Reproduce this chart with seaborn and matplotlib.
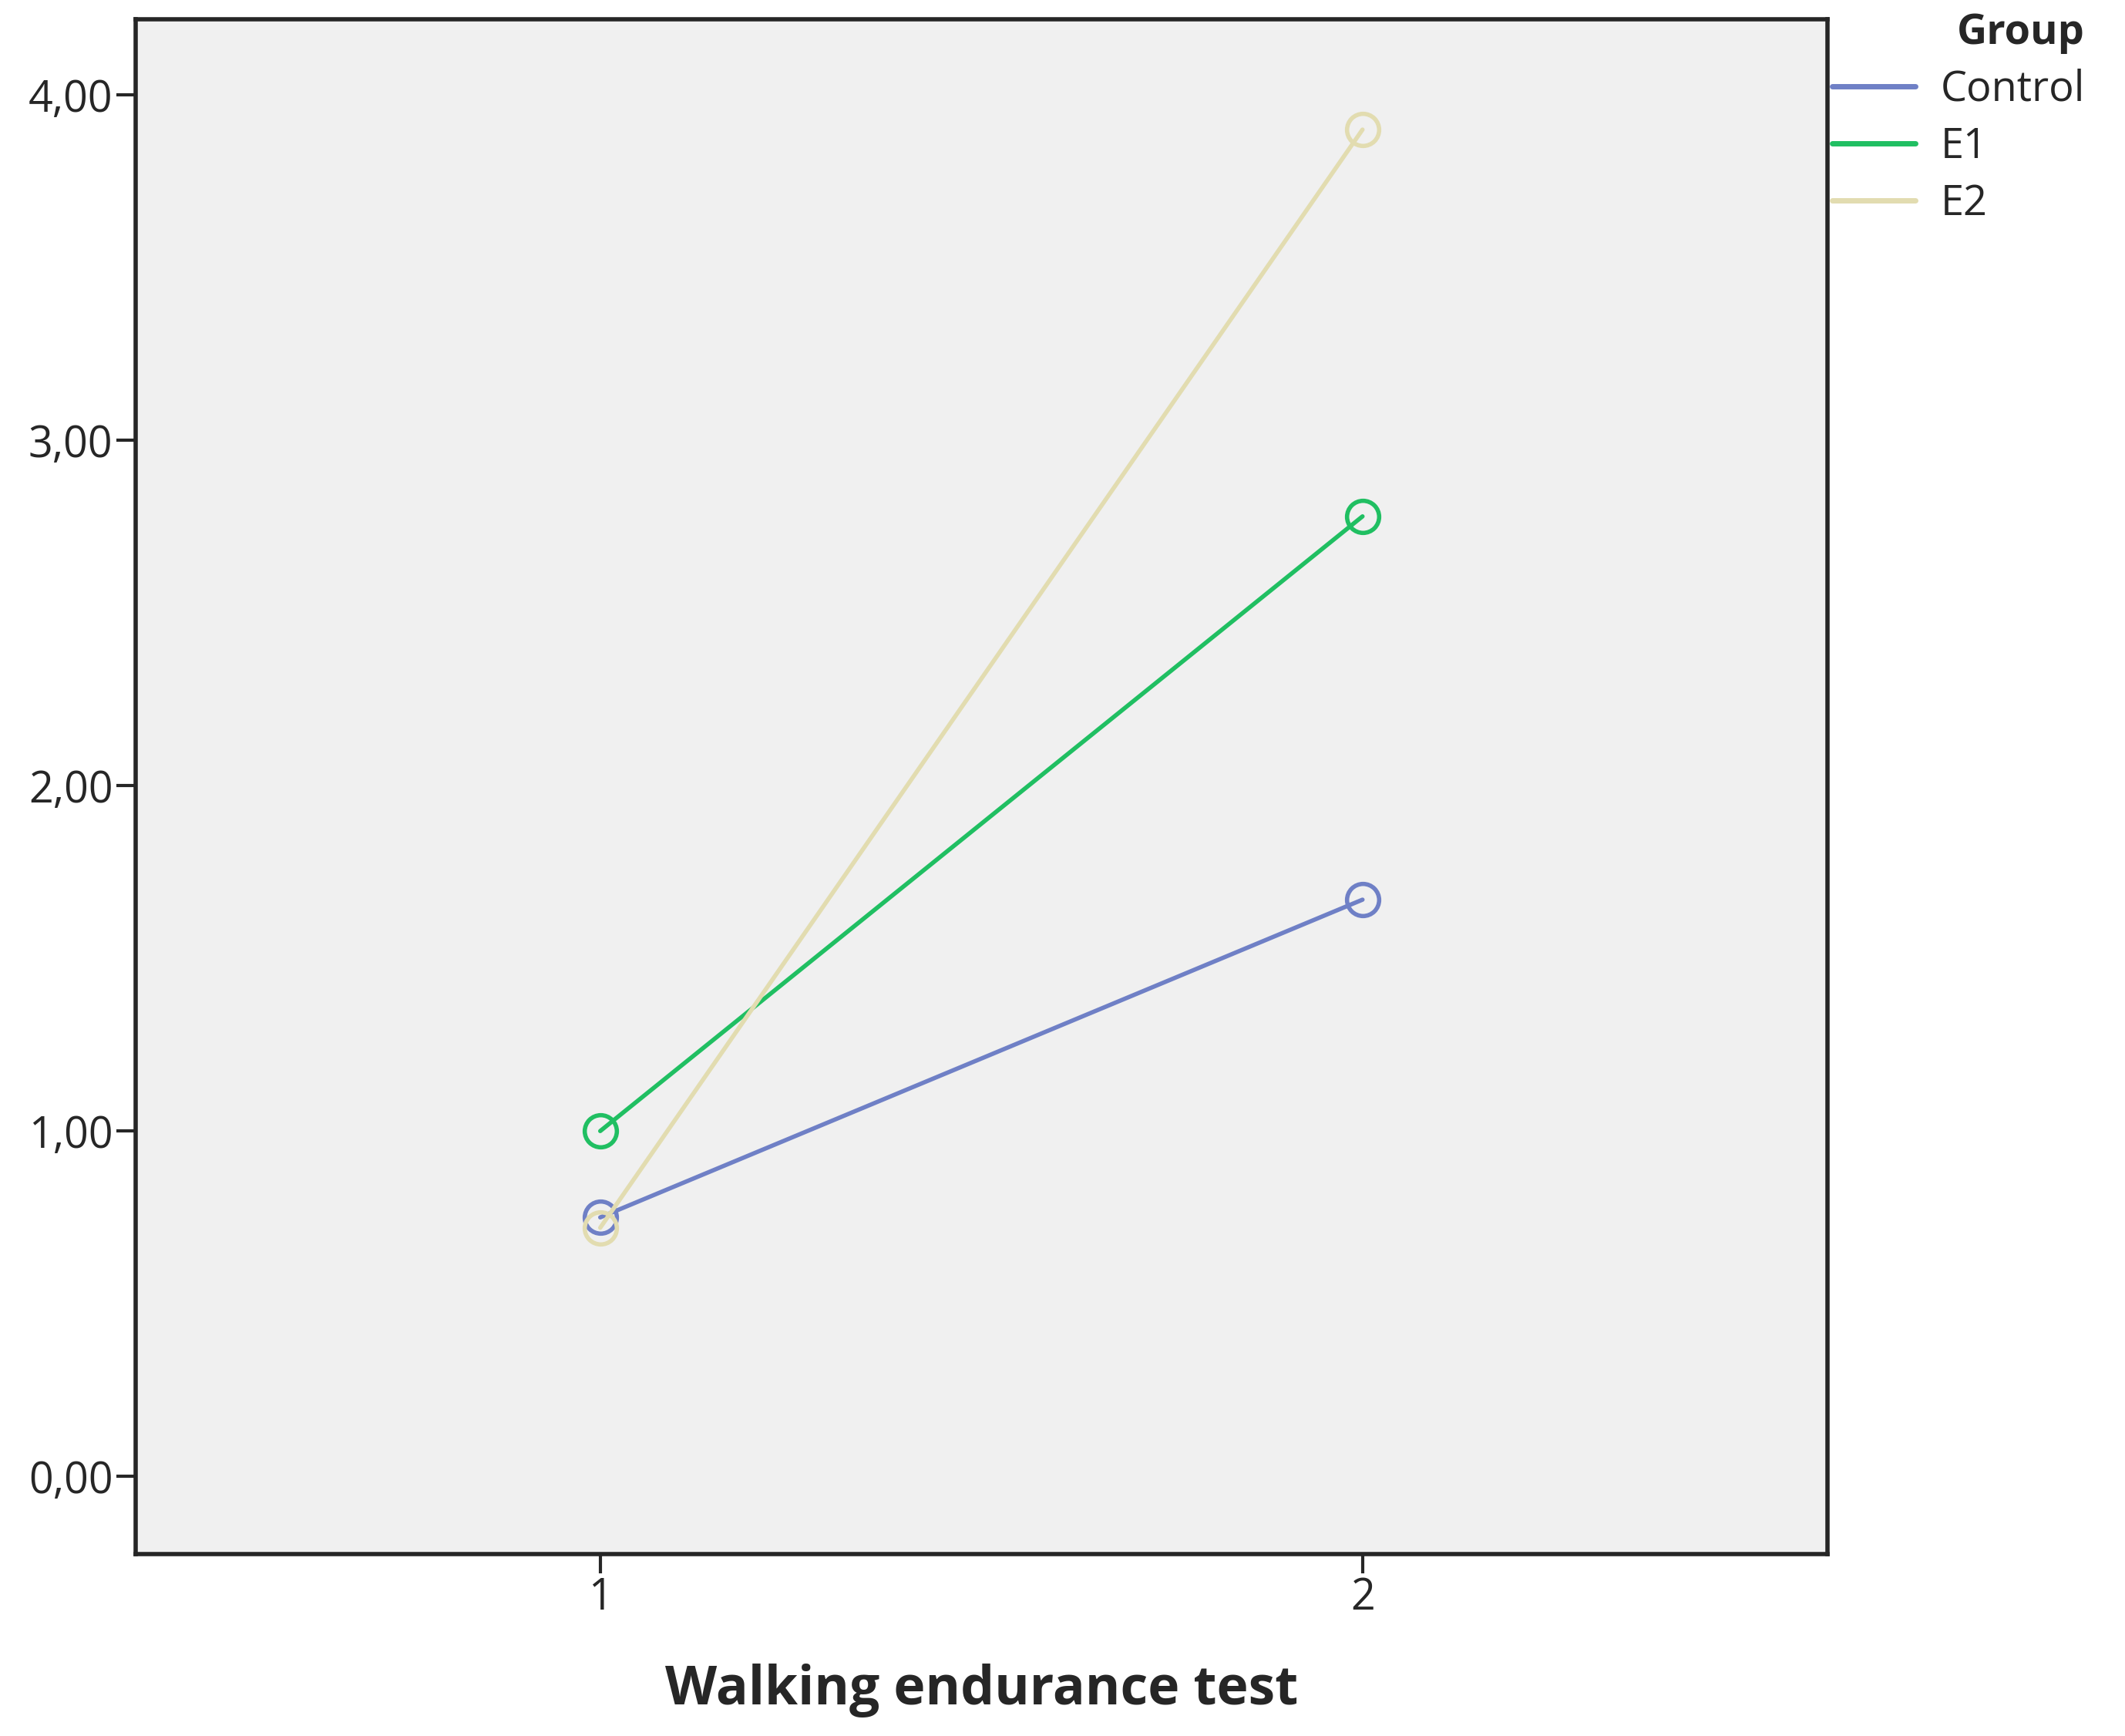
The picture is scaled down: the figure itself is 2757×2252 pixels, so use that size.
import matplotlib
matplotlib.use("Agg")
import matplotlib.pyplot as plt
import seaborn as sns
import pandas as pd

groups = ["Control", "E1", "E2"]
tests = [1, 2]
control = [0.75, 1.67]
e1 = [1.00, 2.78]
e2 = [0.72, 3.90]
colors = {"Control": "#6f80c6", "E1": "#20bf62", "E2": "#e2dcb0"}

rows = []
for g, vals in zip(groups, [control, e1, e2]):
    for t, v in zip(tests, vals):
        rows.append({"Group": g, "Test": t, "Value": v})
df = pd.DataFrame(rows)

sns.set_style("ticks")
plt.rcParams['font.family'] = ['Open Sans', 'DejaVu Sans']
fig = plt.figure(figsize=(27.57, 22.52), dpi=100)
ax = fig.add_axes([0.064, 0.105, 0.796, 0.884])
ax.set_facecolor("#f0f0f0")
sns.lineplot(data=df, x="Test", y="Value", hue="Group", palette=colors, ax=ax,
             linewidth=4, marker="o", markersize=30, markerfacecolor="none",
             markeredgewidth=4, legend=False)
for line, g in zip(ax.get_lines(), groups):
    line.set_markeredgecolor(colors[g])
ax.set_xlim(0.391, 2.61)
ax.set_ylim(-0.224, 4.22)
ax.set_xticks(tests)
ax.set_xticklabels(["1", "2"], fontsize=40)
ax.set_yticks([0, 1, 2, 3, 4])
ax.set_yticklabels(["0,00", "1,00", "2,00", "3,00", "4,00"], fontsize=40)
ax.tick_params(length=18, width=3)
for s in ax.spines.values():
    s.set_linewidth(4)
ax.set_xlabel("Walking endurance test", fontsize=50, fontweight="bold", labelpad=40)
ax.set_ylabel("")
handles = [plt.Line2D([], [], color=colors[g], linewidth=5) for g in groups]
leg = fig.legend(handles, groups, loc="upper left", bbox_to_anchor=(0.862, 0.993),
                 frameon=False, fontsize=39, title="Group",
                 title_fontproperties={"weight": "bold", "size": 39},
                 handlelength=2.0, handletextpad=0.6, labelspacing=0.35,
                 borderpad=0, borderaxespad=0)
leg._legend_box.align = "right"
fig.savefig("out.png", dpi=100)
